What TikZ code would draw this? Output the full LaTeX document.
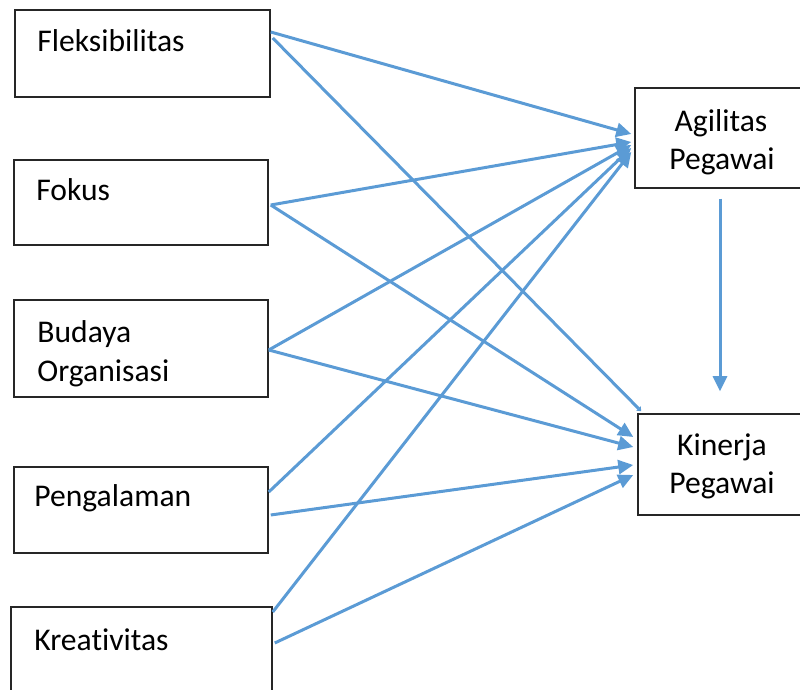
\documentclass[tikz,border=0pt]{standalone}
\usepackage{fontspec}
\setmainfont{Carlito}[Ligatures=NoCommon]
\usetikzlibrary{arrows.meta,calc}
\definecolor{arrowblue}{RGB}{91,155,213}

\begin{document}
\begin{tikzpicture}[x=0.5pt, y=-0.5pt,
	box/.style={draw=black!85, line width=0.75pt, inner sep=0pt},
	txt/.style={font=\fontsize{15.8}{19}\selectfont, inner sep=0pt},
	link/.style={draw=arrowblue, line width=1.5pt, -{Triangle[length=7.5pt,width=7pt]}}]
	\useasboundingbox (0,0) rectangle (800,690);
	\clip (0,0) rectangle (800,690);
	% left boxes
	\node[box, minimum width=127.5pt, minimum height=43.5pt] (fleks) at (142.5,53.5) {};
	\node[box, minimum width=127pt, minimum height=42.5pt] (fokus) at (141,202.5) {};
	\node[box, minimum width=127pt, minimum height=48.5pt] (budaya) at (141,348.5) {};
	\node[box, minimum width=127pt, minimum height=43pt] (peng) at (141,510) {};
	\node[box, minimum width=130.5pt, minimum height=50pt] (krea) at (141.5,657) {};
	% right boxes
	\node[box, minimum width=87.5pt, minimum height=50pt] (agil) at (722.5,138) {};
	\node[box, minimum width=86pt, minimum height=50.5pt] (kin) at (724,464.5) {};
	% texts
	\node[txt, anchor=base west] (fleks-t) at (37,52) {Fleksibilitas};
	\node[txt, anchor=base west] (fokus-t) at (36,201) {Fokus};
	\node[txt, anchor=base west] (budaya-t1) at (37,343) {Budaya};
	\node[txt, anchor=base west] (budaya-t2) at (37,382) {Organisasi};
	\node[txt, anchor=base west] (peng-t) at (34,507) {Pengalaman};
	\node[txt, anchor=base west] (krea-t) at (34,651) {Kreativitas};
	\node[txt, anchor=base] (agil-t1) at (721,132) {Agilitas};
	\node[txt, anchor=base] (agil-t2) at (722,170) {Pegawai};
	\node[txt, anchor=base] (kin-t1) at (722,456) {Kinerja};
	\node[txt, anchor=base] (kin-t2) at (722,494) {Pegawai};
	% connectors
	\draw[link] ($(fleks.east)+(0,-21.5)$) -- ($(agil.west)+(-3,-4)$);
	\draw[link, -{Triangle[length=2pt,width=3pt]}] ($(fleks.east)+(2,-15.5)$) -- ($(kin.north west)+(4,-2)$);
	\draw[link] ($(fokus.east)+(2,2.5)$) -- ($(agil.west)+(-3,4)$);
	\draw[link] ($(fokus.east)+(2,2.5)$) -- ($(kin.west)+(-4,-27.5)$);
	\draw[link] ($(budaya.east)+(0,1.5)$) -- ($(agil.west)+(-3,7)$);
	\draw[link] ($(budaya.east)+(0,1.5)$) -- ($(kin.west)+(-4,-17.5)$);
	\draw[link] ($(peng.east)+(0,-18)$) -- ($(agil.west)+(-3,10)$);
	\draw[link] ($(peng.east)+(2,5)$) -- ($(kin.west)+(-4,0.5)$);
	\draw[link] ($(krea.east)+(0,-45)$) -- ($(agil.west)+(-3,14)$);
	\draw[link] ($(krea.east)+(2,-14)$) -- ($(kin.west)+(-4,10.5)$);
	\draw[link] ($(agil.south)+(-2.5,10)$) -- ($(kin.north)+(-4,-22)$);
\end{tikzpicture}
\end{document}
